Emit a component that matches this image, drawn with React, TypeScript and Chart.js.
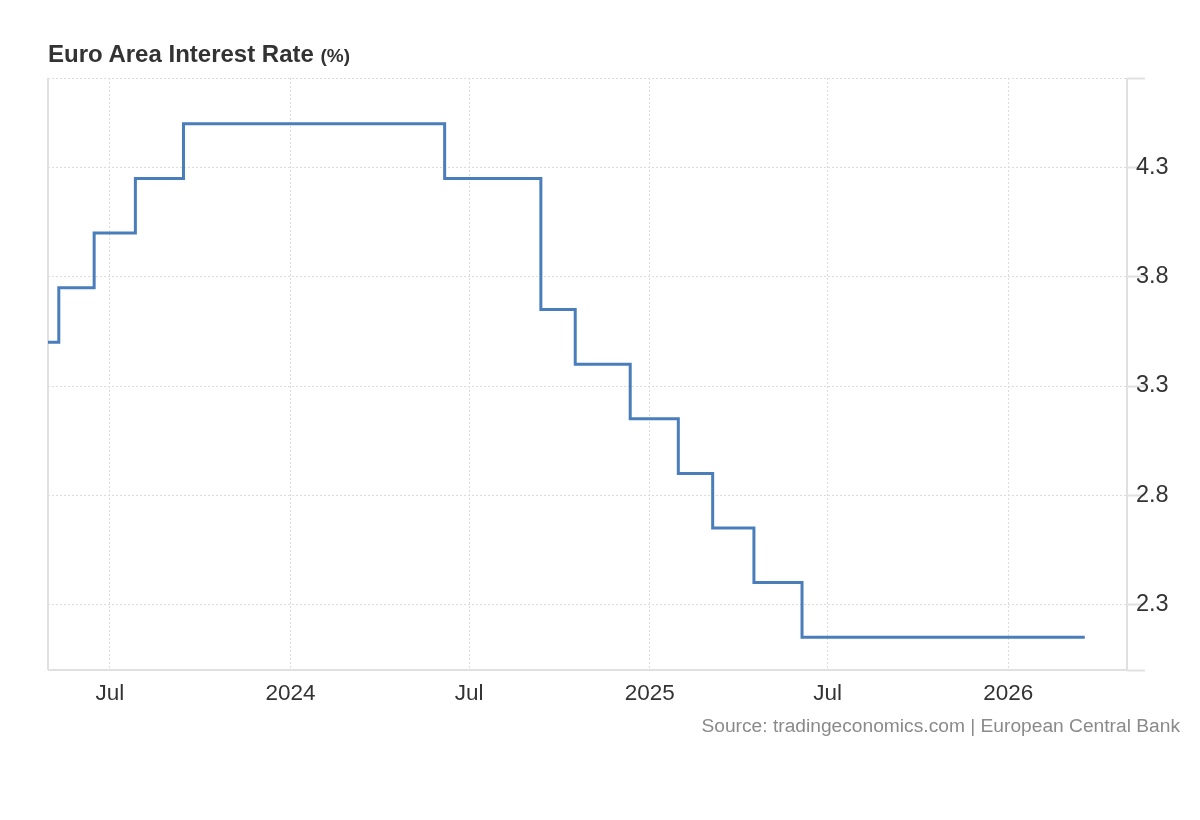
import React, { useEffect, useRef } from "react";
import { Chart, registerables } from "chart.js";

Chart.register(...registerables);

// ---- Data (rate level, applying from each date onward) ----
const changeDates = [
  "2023-04-29",
  "2023-05-10",
  "2023-06-15",
  "2023-07-27",
  "2023-09-14",
  "2024-06-06",
  "2024-09-12",
  "2024-10-17",
  "2024-12-12",
  "2025-01-30",
  "2025-03-06",
  "2025-04-17",
  "2025-06-05",
  "2026-03-20",
];
const rates = [3.5, 3.75, 4.0, 4.25, 4.5, 4.25, 3.65, 3.4, 3.15, 2.9, 2.65, 2.4, 2.15, 2.15];

const xRangeStart = "2023-04-29";
const xRangeEnd = "2026-05-02";
const xTickDates = ["2023-07-01", "2024-01-01", "2024-07-01", "2025-01-01", "2025-07-01", "2026-01-01"];
const xTickLabels = ["Jul", "2024", "Jul", "2025", "Jul", "2026"];

const yTickValues = [2.3, 2.8, 3.3, 3.8, 4.3];
const yRangeMin = 2.0;
const yRangeMax = 4.71;

const DAY = 86400000;
const toDay = (s: string) => Date.parse(s + "T00:00:00Z") / DAY;

const FONT = "'Liberation Sans', Arial, Helvetica, sans-serif";
const GRID = "#dcdcdc";
const AXIS = "#e0e0e0";

const bordersPlugin = {
  id: "borders",
  beforeDatasetsDraw(chart: any) {
    const { ctx, chartArea } = chart;
    const { left, right, top, bottom } = chartArea;
    ctx.save();
    ctx.strokeStyle = AXIS;
    ctx.lineWidth = 2;
    ctx.setLineDash([]);
    ctx.beginPath();
    ctx.moveTo(left, top);
    ctx.lineTo(left, bottom);
    ctx.moveTo(left, bottom);
    ctx.lineTo(right, bottom);
    ctx.moveTo(right, top);
    ctx.lineTo(right, bottom + 1);
    ctx.stroke();
    ctx.restore();
  },
};

export default function App() {
  const canvasRef = useRef<HTMLCanvasElement | null>(null);

  useEffect(() => {
    const canvas = canvasRef.current;
    if (!canvas) return;
    const points = changeDates.map((d, i) => ({ x: toDay(d), y: rates[i] }));
    const xTickVals = xTickDates.map(toDay);

    const chart = new Chart(canvas, {
      type: "line",
      data: {
        datasets: [
          {
            data: points,
            stepped: "before",
            borderColor: "#4a7ebb",
            borderWidth: 3,
            pointRadius: 0,
            fill: false,
            tension: 0,
          },
        ],
      },
      options: {
        responsive: false,
        animation: false,
        layout: { padding: { left: 48, top: 78, right: 0, bottom: 0 } },
        plugins: {
          legend: { display: false },
          tooltip: { enabled: false },
          title: { display: false },
        },
        scales: {
          x: {
            type: "linear",
            min: toDay(xRangeStart),
            max: toDay(xRangeEnd),
            afterBuildTicks: (axis: any) => {
              axis.ticks = xTickVals.map((v) => ({ value: v }));
            },
            afterFit: (axis: any) => {
              axis.height = 150;
            },
            ticks: {
              autoSkip: false,
              maxRotation: 0,
              padding: 10,
              color: "#333333",
              font: { family: FONT, size: 22.5 },
              callback: (v: any) => {
                const i = xTickVals.indexOf(Number(v));
                return i >= 0 ? xTickLabels[i] : "";
              },
            },
            grid: { color: GRID, lineWidth: 1, drawTicks: false },
            border: { display: false, dash: [2, 2] },
          },
          y: {
            type: "linear",
            position: "right",
            min: yRangeMin,
            max: yRangeMax,
            afterBuildTicks: (axis: any) => {
              axis.ticks = [yRangeMin, ...yTickValues, yRangeMax].map((v) => ({ value: v }));
            },
            afterFit: (axis: any) => {
              axis.width = 73;
            },
            ticks: {
              padding: -9,
              color: "#333333",
              font: { family: FONT, size: 23.5 },
              callback: (v: any) => {
                const n = Number(v);
                return yTickValues.some((t) => Math.abs(t - n) < 1e-9) ? n.toFixed(1) : "";
              },
            },
            grid: {
              color: GRID,
              lineWidth: 1,
              drawTicks: true,
              tickLength: 18,
              tickColor: AXIS,
              tickWidth: 2,
              tickBorderDash: [],
            },
            border: { display: false, dash: [2, 2] },
          },
        },
      },
      plugins: [bordersPlugin],
    } as any);

    return () => {
      chart.destroy();
    };
  }, []);

  return (
    <div
      style={{
        position: "fixed",
        left: 0,
        top: 0,
        width: 1200,
        height: 820,
        background: "#ffffff",
        fontFamily: FONT,
      }}
    >
      <canvas ref={canvasRef} width={1200} height={820} style={{ position: "absolute", left: 0, top: 0 }} />
      <div
        style={{
          position: "absolute",
          left: 48,
          top: 42,
          fontSize: 24,
          lineHeight: "24px",
          fontWeight: "bold",
          color: "#333333",
          whiteSpace: "nowrap",
        }}
      >
        Euro Area Interest Rate <span style={{ fontSize: 19 }}>(%)</span>
      </div>
      <div
        style={{
          position: "absolute",
          right: 20,
          top: 716,
          fontSize: 19.2,
          lineHeight: "19px",
          color: "#8a8a8a",
          whiteSpace: "nowrap",
        }}
      >
        Source: tradingeconomics.com | European Central Bank
      </div>
    </div>
  );
}
